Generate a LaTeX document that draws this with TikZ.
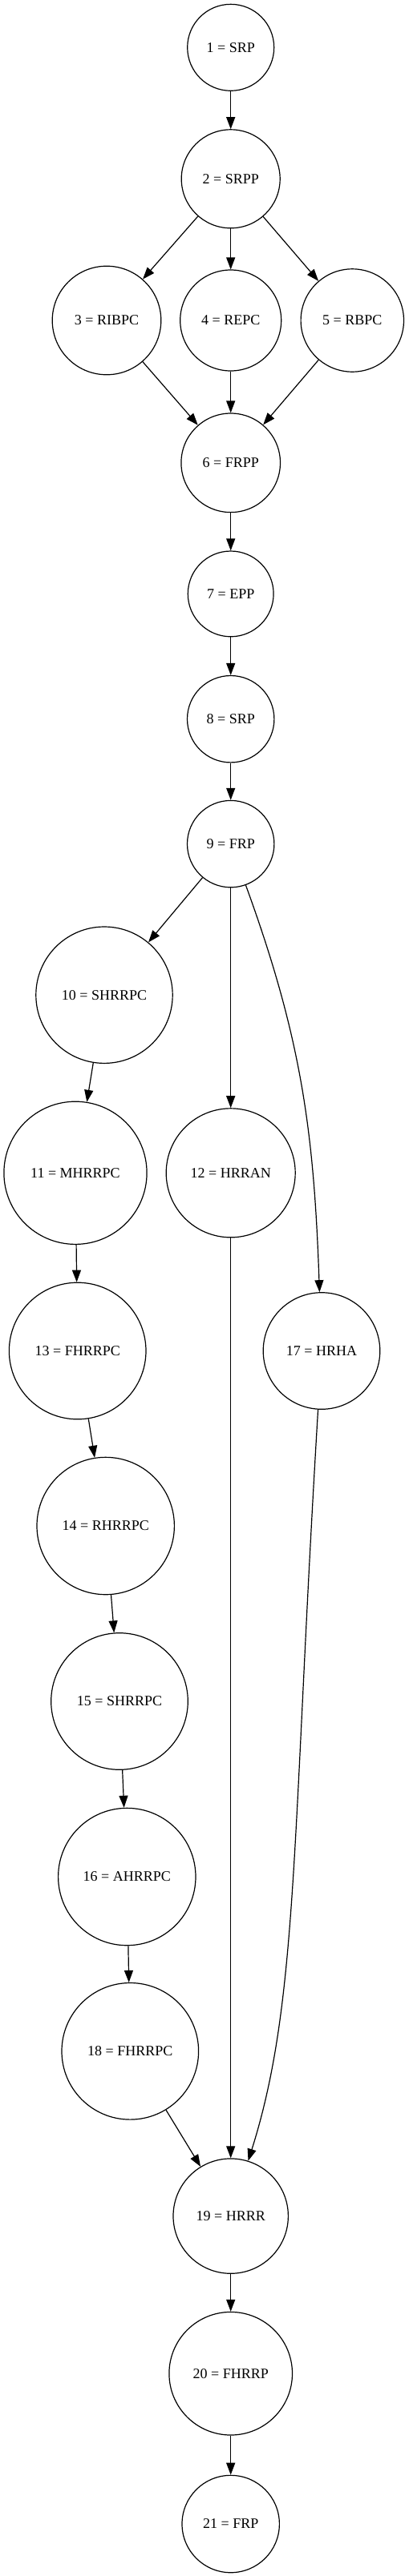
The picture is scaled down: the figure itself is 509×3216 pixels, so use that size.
\documentclass[tikz,border=0pt]{standalone}
\usepackage{fontspec}
\setmainfont{Liberation Serif}
\usetikzlibrary{arrows.meta}

\tikzset{
	state/.style={circle,draw,line width=1.2pt,inner sep=0pt,font=\fontsize{18}{20}\selectfont},
	flow/.style={line width=1.2pt,-{Triangle[length=15pt,width=11pt]}}
}

\begin{document}
\begin{tikzpicture}[x=1pt,y=-1pt]
		\useasboundingbox (0,0) rectangle (509,3216);
		\foreach \S/\X/\Y/\R/\T in {
			1/287.7/59.3/54/SRP, 2/287.7/223.3/61.5/SRPP,
			3/133/400/67.8/RIBPC, 4/287.7/400/63/REPC, 5/439.3/400/64.2/RBPC,
			6/287.7/577.8/61.8/FRPP, 7/287.7/741.4/53.4/EPP,
			8/287.7/897.7/54.2/SRP, 9/287.7/1053.6/54.2/FRP,
			10/130/1242.2/85.2/SHRRPC, 11/94/1464.3/89.1/MHRRPC,
			12/287.7/1464.3/80.5/HRRAN, 13/96.7/1686.5/85.3/FHRRPC,
			17/401/1686.5/72.8/HRHA, 14/131.7/1905/85.7/RHRRPC,
			15/149/2124/85.3/SHRRPC, 16/158.3/2343/85.7/AHRRPC,
			18/162.3/2560.8/85.3/FHRRPC, 19/287.7/2766.6/71.7/HRRR,
			20/287.7/2963.2/76.8/FHRRP, 21/287.7/3151/60.7/FRP}{
			\node[state,minimum size=2*\R pt] (N\S) at (\X,\Y) {\S{} = \T};
		}
		\foreach \A/\B in {1/2, 2/3, 2/4, 2/5, 3/6, 4/6, 5/6, 6/7, 7/8, 8/9,
			9/10, 9/12, 10/11, 11/13, 13/14, 14/15, 15/16, 16/18,
			12/19, 18/19, 19/20, 20/21}{
			\draw[flow] (N\A) -- (N\B);
		}
		\draw[flow] (N9) to[out=-70,in=92] (N17);
		\draw[flow] (N17) .. controls (364,2300) and (372,2500) .. (N19);
	\end{tikzpicture}
\end{document}
